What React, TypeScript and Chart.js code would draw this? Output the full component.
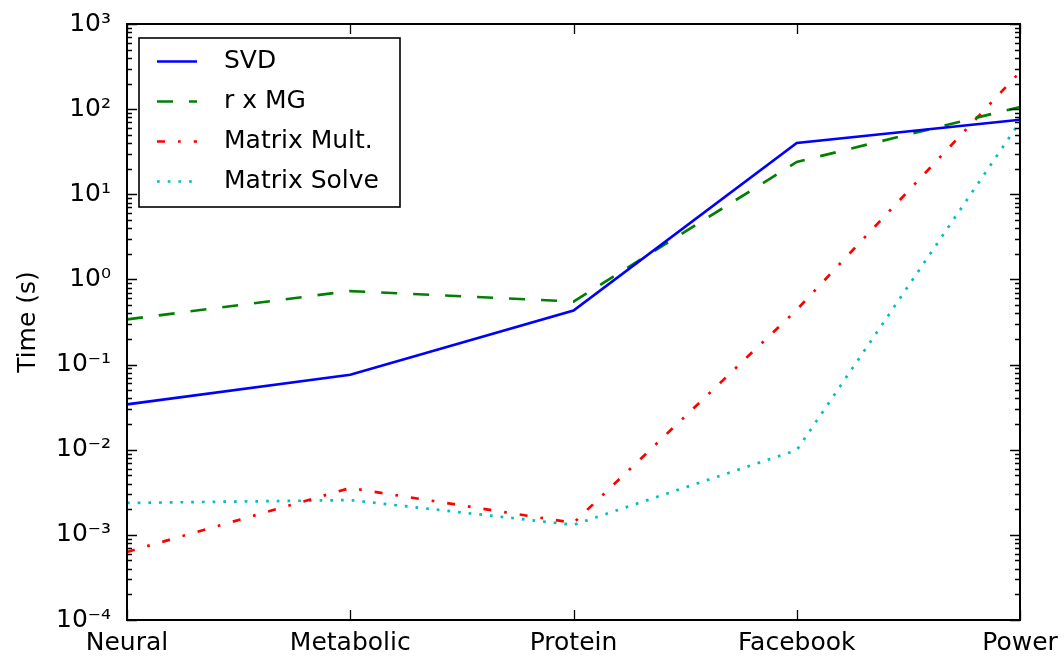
import React, { useEffect, useRef } from 'react';
import { Chart, registerables } from 'chart.js';

Chart.register(...registerables);

// ---- data ----
const categories = ['Neural', 'Metabolic', 'Protein', 'Facebook', 'Power'];
const seriesNames = ['SVD', 'r x MG', 'Matrix Mult.', 'Matrix Solve'];
const svdTimes = [0.034, 0.076, 0.43, 40, 75];
const rxmgTimes = [0.34, 0.73, 0.55, 24, 106];
const matMultTimes = [0.00063, 0.00355, 0.00138, 0.44, 273];
const matSolveTimes = [0.00237, 0.00256, 0.00131, 0.0099, 71];
const yTickExponents = [-4, -3, -2, -1, 0, 1, 2, 3];
const yAxisTitle = 'Time (s)';

// ---- styles ----
const FONT_FAMILY = "'DejaVu Sans', 'Liberation Sans', sans-serif";
const FONT_SIZE = 25;
const SUP: Record<string, string> = {
  '-': '⁻', '0': '⁰', '1': '¹', '2': '²', '3': '³', '4': '⁴',
  '5': '⁵', '6': '⁶', '7': '⁷', '8': '⁸', '9': '⁹',
};
const toSup = (n: number) => String(n).split('').map((c) => SUP[c] ?? c).join('');

const isDecade = (v: number) => {
  const e = Math.log10(v);
  return Math.abs(e - Math.round(e)) < 1e-6;
};

const axesFramePlugin = {
  id: 'axesFrame',
  afterDraw(chart: any) {
    const { ctx, chartArea: a, scales } = chart;
    const ys = scales.y;
    const xs = scales.x;
    ctx.save();
    ctx.strokeStyle = '#000';
    ctx.lineWidth = 1.3;
    ctx.beginPath();
    // y ticks: majors at decades, minors at 2..9
    const eMin = yTickExponents[0];
    const eMax = yTickExponents[yTickExponents.length - 1];
    for (let e = eMin; e <= eMax; e++) {
      for (let m = 1; m <= 9; m++) {
        if (e === eMax && m > 1) break;
        const v = m * Math.pow(10, e);
        const len = m === 1 ? 10 : 5;
        const py = Math.round(ys.getPixelForValue(v)) + 0.5;
        ctx.moveTo(a.left, py);
        ctx.lineTo(a.left + len, py);
        ctx.moveTo(a.right, py);
        ctx.lineTo(a.right - len, py);
      }
    }
    categories.forEach((_, i) => {
      const px = Math.round(xs.getPixelForValue(i)) + 0.5;
      ctx.moveTo(px, a.bottom);
      ctx.lineTo(px, a.bottom - 10);
      ctx.moveTo(px, a.top);
      ctx.lineTo(px, a.top + 10);
    });
    ctx.stroke();
    ctx.lineWidth = 2;
    ctx.strokeRect(a.left, a.top, a.right - a.left, a.bottom - a.top);

    // legend box (upper left inside axes)
    const bx = a.left + 12;
    const by = a.top + 14;
    const bw = 261;
    const bh = 169;
    ctx.fillStyle = '#fff';
    ctx.fillRect(bx, by, bw, bh);
    ctx.lineWidth = 1.6;
    ctx.strokeStyle = '#000';
    ctx.strokeRect(bx, by, bw, bh);
    ctx.font = `${FONT_SIZE}px ${FONT_FAMILY}`;
    ctx.textBaseline = 'middle';
    ctx.textAlign = 'left';
    chart.data.datasets.forEach((ds: any, i: number) => {
      const ry = by + 23 + i * 40;
      ctx.save();
      ctx.strokeStyle = ds.borderColor;
      ctx.lineWidth = ds.borderWidth;
      ctx.lineCap = 'butt';
      ctx.setLineDash(ds.borderDash || []);
      ctx.beginPath();
      ctx.moveTo(bx + 18, ry + 0.5);
      ctx.lineTo(bx + 58, ry + 0.5);
      ctx.stroke();
      ctx.restore();
      ctx.fillStyle = '#000';
      ctx.fillText(ds.label, bx + 85, ry);
    });
    ctx.restore();
  },
};

export default function App() {
  const canvasRef = useRef<HTMLCanvasElement | null>(null);

  useEffect(() => {
    if (!canvasRef.current) return;
    const font = { family: FONT_FAMILY, size: FONT_SIZE };
    const mk = (i: number, data: number[], color: string, dash: number[]) => ({
      label: seriesNames[i],
      data,
      borderColor: color,
      backgroundColor: color,
      borderWidth: 2.7,
      borderDash: dash,
      borderCapStyle: 'butt' as const,
      pointRadius: 0,
      pointHoverRadius: 0,
      tension: 0,
      fill: false,
    });
    const chart = new Chart(canvasRef.current, {
      type: 'line',
      data: {
        labels: categories,
        datasets: [
          mk(0, svdTimes, '#0000ff', []),
          mk(1, rxmgTimes, '#008000', [16, 16]),
          mk(2, matMultTimes, '#ff0000', [8, 13, 2.7, 13]),
          mk(3, matSolveTimes, '#00bfbf', [2.7, 8]),
        ],
      },
      options: {
        animation: false,
        responsive: false,
        devicePixelRatio: 1,
        layout: { padding: { top: 24, right: 44, bottom: 0, left: 0 } },
        plugins: {
          legend: { display: false },
          tooltip: { enabled: false },
        },
        scales: {
          x: {
            type: 'category',
            offset: false,
            grid: { display: false, drawTicks: false },
            border: { display: false },
            ticks: { font, color: '#000', padding: 8, autoSkip: false, maxRotation: 0 },
            afterFit(s: any) {
              s.height = 42;
              s.paddingLeft = 0;
              s.paddingRight = 0;
            },
          },
          y: {
            type: 'logarithmic',
            min: Math.pow(10, yTickExponents[0]),
            max: Math.pow(10, yTickExponents[yTickExponents.length - 1]),
            grid: { display: false, drawTicks: false },
            border: { display: false },
            afterBuildTicks(s: any) {
              s.ticks = yTickExponents.map((e) => ({ value: Math.pow(10, e), major: true }));
            },
            ticks: {
              font,
              color: '#000',
              padding: 16,
              autoSkip: false,
              callback: (v: any) => {
                const n = Number(v);
                if (!isDecade(n)) return '';
                return '10' + toSup(Math.round(Math.log10(n)));
              },
            },
            title: {
              display: true,
              text: yAxisTitle,
              font,
              color: '#000',
              padding: { top: 13, bottom: 0 },
            },
            afterFit(s: any) {
              s.width = 127;
              s.paddingTop = 0;
              s.paddingBottom = 0;
            },
          },
        },
      },
      plugins: [axesFramePlugin],
    });
    return () => chart.destroy();
  }, []);

  return (
    <div style={{ position: 'absolute', left: 0, top: 0, width: 1064, height: 662, background: '#fff' }}>
      <canvas ref={canvasRef} width={1064} height={662} />
    </div>
  );
}
